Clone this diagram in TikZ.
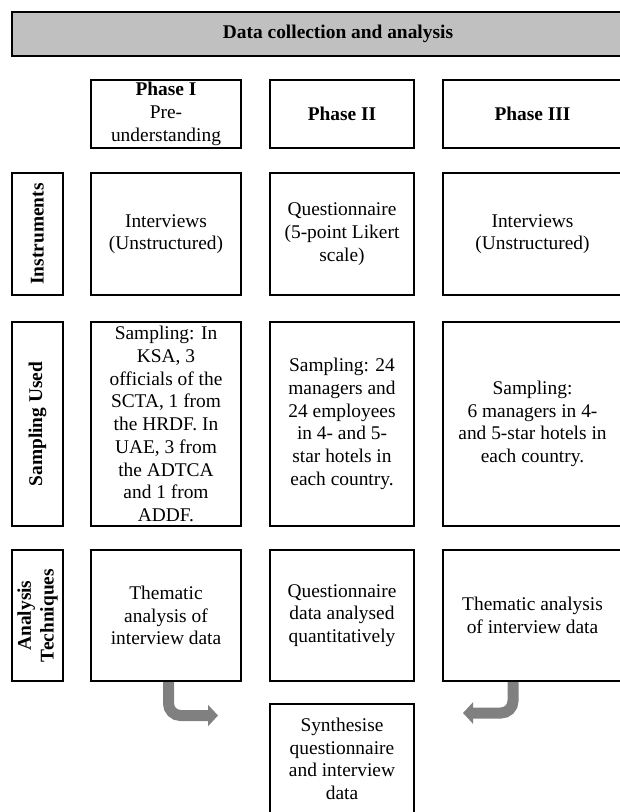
\documentclass[tikz,border=0pt]{standalone}
\usepackage{fontspec}
\setmainfont{Liberation Serif}
\usetikzlibrary{arrows.meta}

\definecolor{headgray}{HTML}{C0C0C0}
\definecolor{arrowgray}{HTML}{808080}

\begin{document}
\begin{tikzpicture}[x=1pt,y=-1pt,
    cell/.style={draw, line width=2.2pt, align=center, inner sep=0pt, font=\fontsize{19.4}{22.7}\selectfont},
    side/.style={cell, rotate=90, font=\fontsize{19.4}{22.7}\selectfont\bfseries},
    bent/.style={draw=arrowgray, line width=11pt, rounded corners=12pt, -{Triangle[length=10pt,width=21pt]}}]
    \useasboundingbox (0,0) rectangle (620,812);

    % heading
    \node[cell, fill=headgray, minimum width=652pt, minimum height=44pt, font=\fontsize{19.4}{22.7}\selectfont\bfseries] (head) at (338,34) {Data collection and analysis};

    % phases
    \node[cell, minimum width=150pt, minimum height=68pt] (ph1) at (166,114) {\textbf{Phase I}\\Pre-\\understanding};
    \node[cell, minimum width=144pt, minimum height=68pt] (ph2) at (342,114) {\textbf{Phase II}};
    \node[cell, minimum width=179pt, minimum height=68pt] (ph3) at (532.5,114) {\textbf{Phase III}};

    % row labels
    \node[side, minimum width=122pt, minimum height=51pt] (lins) at (37.5,234) {Instruments};
    \node[side, minimum width=204pt, minimum height=51pt] (lsam) at (37.5,424) {Sampling Used};
    \node[side, minimum width=131pt, minimum height=51pt] (lana) at (37.5,615.5) {Analysis\\Techniques};

    % instruments
    \node[cell, minimum width=150pt, minimum height=122pt] (ins1) at (166,234) {Interviews\\(Unstructured)};
    \node[cell, minimum width=144pt, minimum height=122pt] (ins2) at (342,234) {Questionnaire\\(5-point Likert\\scale)};
    \node[cell, minimum width=179pt, minimum height=122pt] (ins3) at (532.5,234) {Interviews\\(Unstructured)};

    % sampling
    \node[cell, minimum width=150pt, minimum height=204pt] (sam1) at (166,424) {Sampling: In\\KSA, 3\\officials of the\\SCTA, 1 from\\the HRDF. In\\UAE, 3 from\\the ADTCA\\and 1 from\\ADDF.};
    \node[cell, minimum width=144pt, minimum height=204pt] (sam2) at (342,424) {Sampling: 24\\managers and\\24 employees\\in 4- and 5-\\star hotels in\\each country.};
    \node[cell, minimum width=179pt, minimum height=204pt] (sam3) at (532.5,424) {Sampling:\\6 managers in 4-\\and 5-star hotels in\\each country.};

    % analysis
    \node[cell, minimum width=150pt, minimum height=131pt] (ana1) at (166,615.5) {Thematic\\analysis of\\interview data};
    \node[cell, minimum width=144pt, minimum height=131pt] (ana2) at (342,615.5) {Questionnaire\\data analysed\\quantitatively};
    \node[cell, minimum width=179pt, minimum height=131pt] (ana3) at (532.5,615.5) {Thematic analysis\\of interview data};

    % synthesis
    \node[cell, minimum width=144pt, minimum height=126pt] (syn) at (342,767) {};
    \node[anchor=north, align=center, inner sep=0pt, font=\fontsize{19.4}{22.7}\selectfont] (syntext) at ([yshift=-15pt]syn.north) {Synthesise\\questionnaire\\and interview\\data};

    \coordinate (tipL) at (218,715.5);
    \coordinate (tipR) at (463,713);
    \draw[bent] ([xshift=2.5pt]ana1.south) |- (tipL);
    \draw[bent] ([xshift=-19.5pt]ana3.south) |- (tipR);
\end{tikzpicture}
\end{document}
